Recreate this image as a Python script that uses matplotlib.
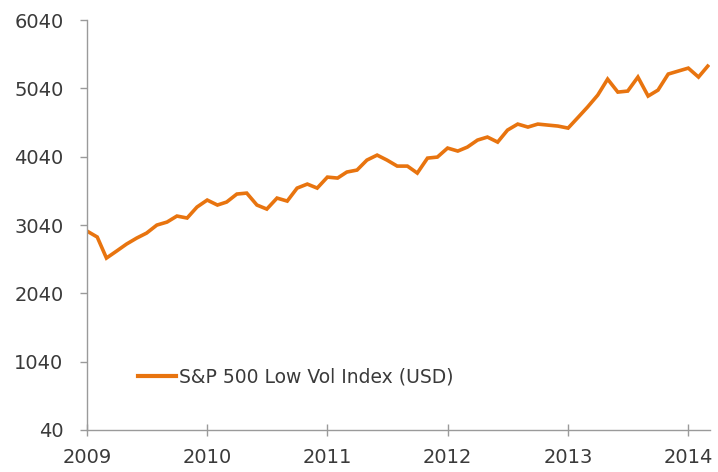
import matplotlib
matplotlib.use("Agg")
import matplotlib.pyplot as plt
import matplotlib.dates as mdates
import pandas as pd

# ── Data (monthly, Jan 2009 - Mar 2014) ──
START_MONTH = "2009-01-01"
LOW_VOL = [
    2951, 2864, 2556, 2659, 2761, 2849, 2922, 3039, 3083, 3171, 3142, 3303,
    3405, 3332, 3376, 3493, 3507, 3332, 3273, 3434, 3390, 3580, 3639, 3580,
    3741, 3727, 3815, 3844, 3990, 4063, 3990, 3902, 3902, 3800, 4019, 4034,
    4166, 4122, 4180, 4283, 4327, 4253, 4429, 4517, 4473, 4517, 4502, 4488,
    4458, 4619, 4766, 4941, 5175, 4985, 5000, 5205, 4927, 5014, 5249, 5292,
    5336, 5205, 5365,
]
Y_TICKS = [40, 1040, 2040, 3040, 4040, 5040, 6040]
SERIES_LABEL = "S&P 500 Low Vol Index (USD)"

# ── Style ──
LINE_COLOR = "#E8740F"
AXIS_COLOR = "#9A9A9A"
TEXT_COLOR = "#3A3A3A"

dates = pd.date_range(START_MONTH, periods=len(LOW_VOL), freq="MS")

fig = plt.figure(figsize=(7.18, 4.72), dpi=100)
ax = fig.add_axes([0.1212, 0.089, 0.8677, 0.8686])

ax.plot(dates, LOW_VOL, color=LINE_COLOR, linewidth=2.6,
        solid_joinstyle="miter", label=SERIES_LABEL)

ax.set_ylim(40, 6040)
ax.set_yticks(Y_TICKS)
ax.set_xlim(pd.Timestamp("2009-01-01"), pd.Timestamp("2014-03-08"))
ax.xaxis.set_major_locator(mdates.YearLocator())
ax.xaxis.set_major_formatter(mdates.DateFormatter("%Y"))

for spine in ["top", "right"]:
    ax.spines[spine].set_visible(False)
for spine in ["left", "bottom"]:
    ax.spines[spine].set_color(AXIS_COLOR)
    ax.spines[spine].set_linewidth(1.0)

ax.tick_params(axis="y", direction="out", length=5, width=1, color=AXIS_COLOR,
               labelsize=14, labelcolor=TEXT_COLOR, pad=12)
ax.tick_params(axis="x", direction="inout", length=8, width=1, color=AXIS_COLOR,
               labelsize=14, labelcolor=TEXT_COLOR, pad=9)

leg = ax.legend(loc="lower left", bbox_to_anchor=(0.055, 0.065), frameon=False,
                fontsize=13.5, handlelength=2.0, handletextpad=0.2,
                labelcolor=TEXT_COLOR)
for line in leg.get_lines():
    line.set_linewidth(3)

fig.savefig("out.png", dpi=100, facecolor="white")
